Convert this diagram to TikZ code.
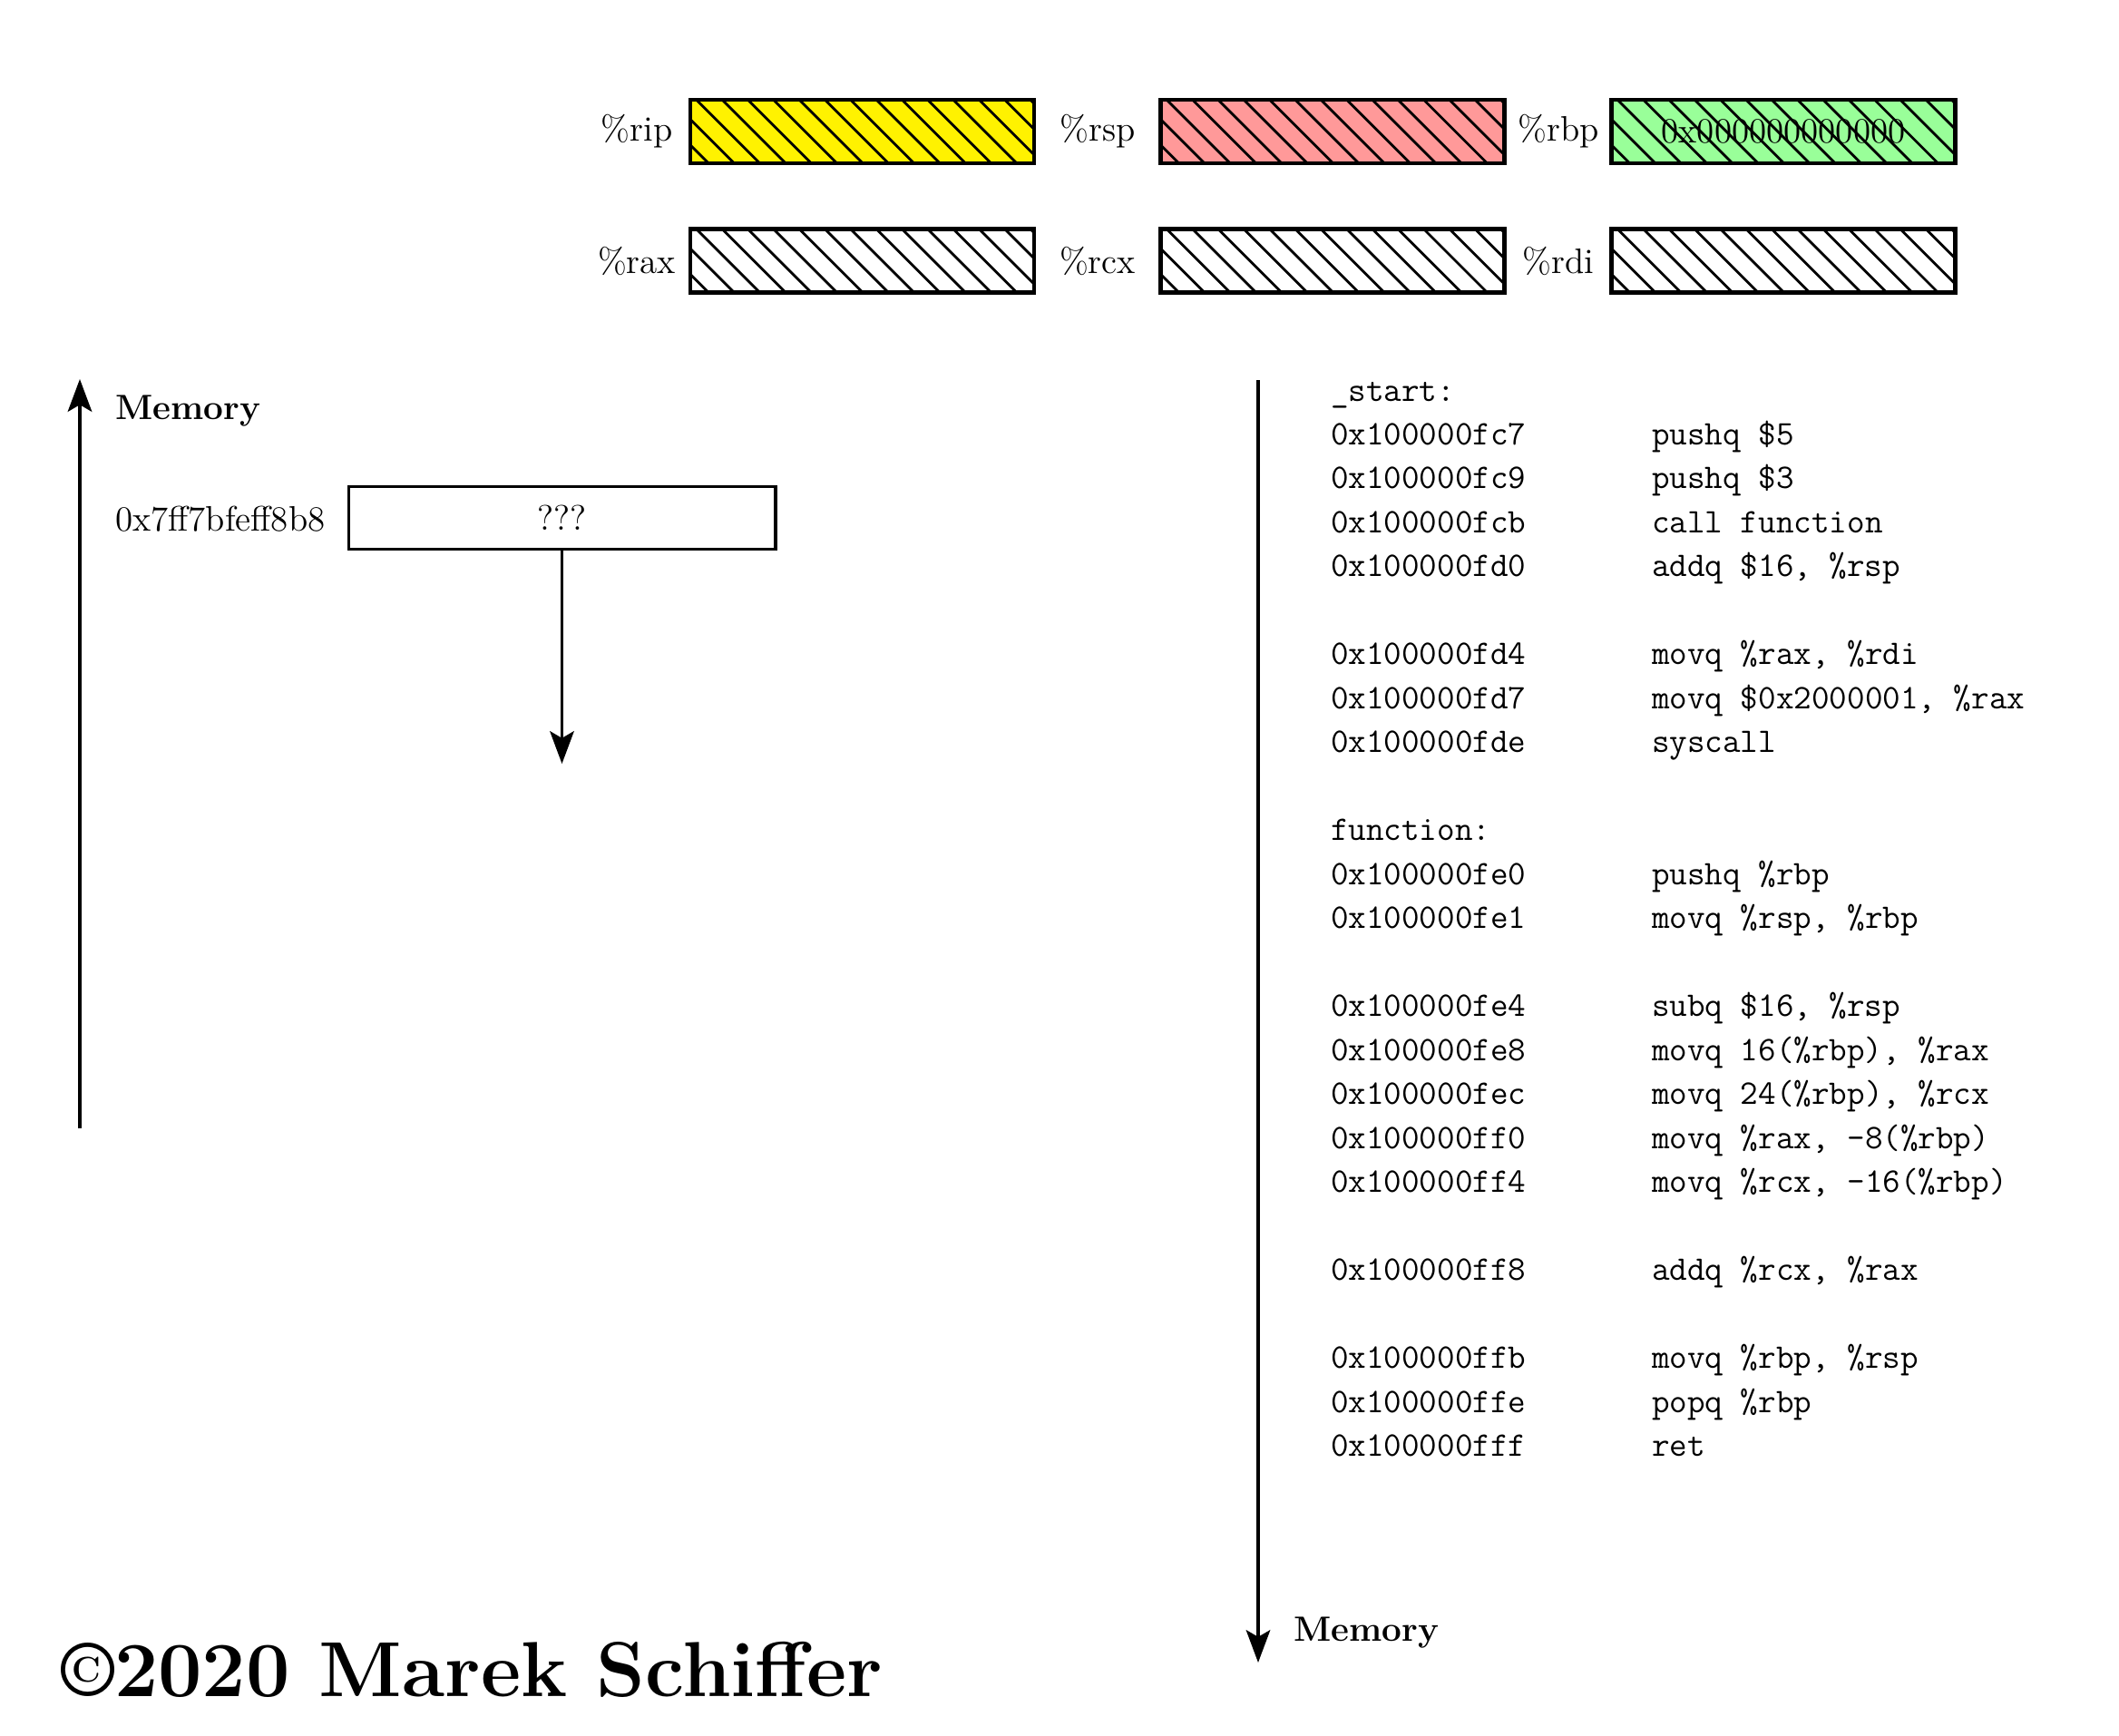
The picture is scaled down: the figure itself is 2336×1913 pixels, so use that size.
\documentclass[tikz,border=0pt]{standalone}
\usetikzlibrary{arrows.meta}
\begin{document}
\begin{tikzpicture}[x=0.3011pt,y=-0.3011pt,
  every node/.style={inner sep=0pt, outer sep=0pt, font=\fontsize{11.75}{14.2}\selectfont},
  regbox/.style={draw, line width=1.35pt, minimum width=114pt, minimum height=21pt,
    path picture={
      \foreach \k in {-4,...,14}
        \draw[line width=0.85pt] ([xshift=\k*8.53pt+1pt, yshift=1pt]path picture bounding box.north west) -- ++(25pt,-25pt);}},
  reglabel/.style={anchor=center},
  membox/.style={draw, line width=0.92pt, minimum width=141.8pt, minimum height=20.8pt},
  axis/.style={line width=0.95pt, -{Stealth[length=10.8pt,width=8pt,inset=2.3pt]}},
  addr/.style={anchor=base west, font=\fontsize{11.45}{14}\selectfont\ttfamily},
  instr/.style={anchor=base west, font=\fontsize{11.45}{14}\selectfont\ttfamily},
  memlabel/.style={anchor=west, font=\fontsize{11.65}{14}\selectfont\bfseries}
]
\useasboundingbox (0,0) rectangle (2336,1913);

% registers
\node[regbox, fill=yellow] (rip) at (950.5,145) {};
\node[regbox, fill=red!40] (rsp) at (1469,145) {};
\node[regbox, fill=green!40] (rbp) at (1966,145) {0x000000000000};
\node[regbox] (rax) at (950.5,287.5) {};
\node[regbox] (rcx) at (1469,287.5) {};
\node[regbox] (rdi) at (1966,287.5) {};
\node[reglabel] (lrip) at (702,145) {\%rip};
\node[reglabel] (lrsp) at (1210,145) {\%rsp};
\node[reglabel] (lrbp) at (1718,145) {\%rbp};
\node[reglabel] (lrax) at (702,287.5) {\%rax};
\node[reglabel] (lrcx) at (1210,287.5) {\%rcx};
\node[reglabel] (lrdi) at (1718,287.5) {\%rdi};

% memory (left)
\coordinate (lbot) at (88,1244);
\coordinate (ltop) at (88,418);
\draw[axis] (lbot) -- (ltop);
\node[memlabel] (memup) at (127,453) {Memory};
\node[membox] (m0) at (619.5,571) {???};
\node[anchor=west] (m0addr) at (127,572) {0x7ff7bfeff8b8};
\coordinate (m0end) at (619.5,842);
\draw[axis] (m0.south) -- (m0end);

% code (right)
\coordinate (rtop) at (1387,419);
\coordinate (rbot) at (1387,1833);
\draw[axis] (rtop) -- (rbot);
\node[memlabel] (memdown) at (1426,1800) {Memory};

\node[addr] (lstart) at (1467,442) {\_start:};
\node[addr] (lfunc) at ({1467},{442+10*48.48}) {function:};
\foreach \i/\a/\b in {
  1/0x100000fc7/{pushq \$5},
  2/0x100000fc9/{pushq \$3},
  3/0x100000fcb/{call function},
  4/0x100000fd0/{addq \$16, \%rsp},
  6/0x100000fd4/{movq \%rax, \%rdi},
  7/0x100000fd7/{movq \$0x2000001, \%rax},
  8/0x100000fde/{syscall},
  11/0x100000fe0/{pushq \%rbp},
  12/0x100000fe1/{movq \%rsp, \%rbp},
  14/0x100000fe4/{subq \$16, \%rsp},
  15/0x100000fe8/{movq 16(\%rbp), \%rax},
  16/0x100000fec/{movq 24(\%rbp), \%rcx},
  17/0x100000ff0/{movq \%rax, -8(\%rbp)},
  18/0x100000ff4/{movq \%rcx, -16(\%rbp)},
  20/0x100000ff8/{addq \%rcx, \%rax},
  22/0x100000ffb/{movq \%rbp, \%rsp},
  23/0x100000ffe/{popq \%rbp},
  24/0x100000fff/{ret}}
{
  \node[addr] (a\i) at ({1467},{442+\i*48.48}) {\a};
  \node[instr] (b\i) at ({1821},{442+\i*48.48}) {\b};
}

% copyright
\node[anchor=base west, font=\fontsize{25.9}{31}\selectfont\bfseries] (copy) at (67,1870) {\textcopyright 2020 Marek Schiffer};
\end{tikzpicture}
\end{document}
